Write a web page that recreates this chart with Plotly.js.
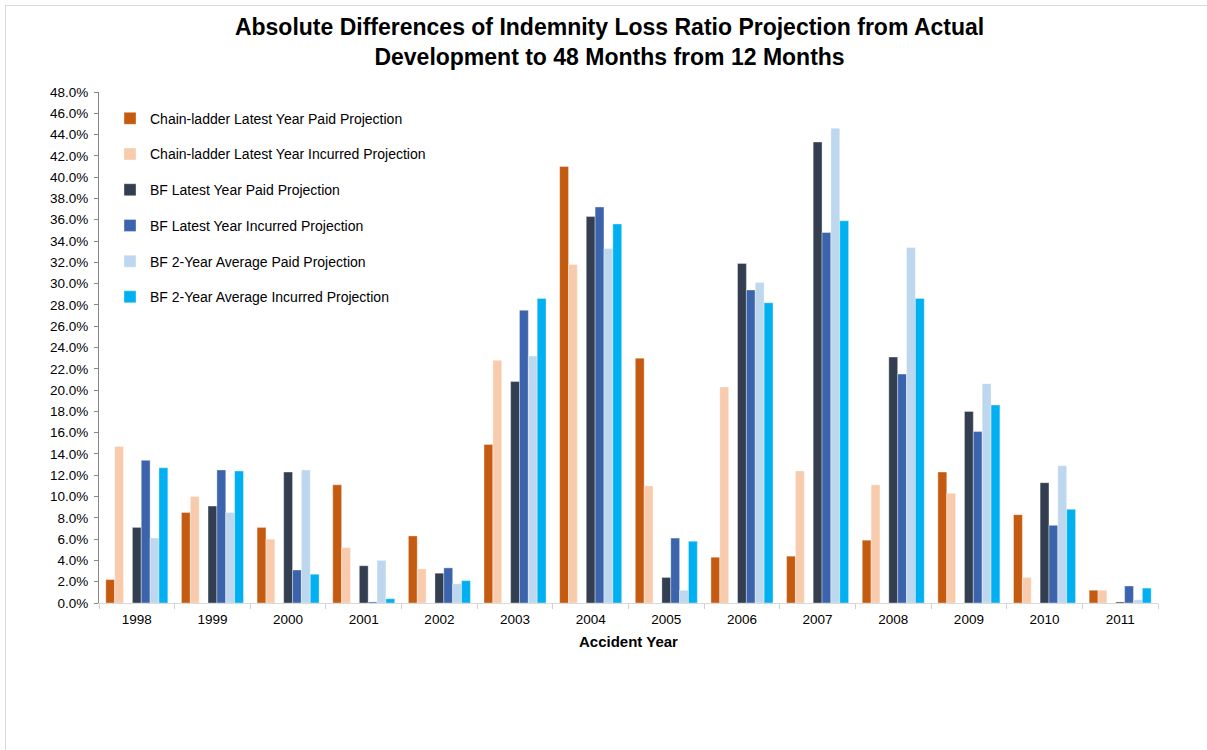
<!DOCTYPE html>
<html><head><meta charset="utf-8">
<script src="https://cdn.plot.ly/plotly-3.0.1.min.js"></script>
<style>
body{margin:0;padding:0;background:#fff;}
#frame{position:absolute;left:5px;top:5px;width:1202px;height:745px;border-left:1px solid #d9d9d9;border-top:1px solid #d9d9d9;}
#chart{position:absolute;left:0;top:0;width:1207px;height:750px;}
</style></head>
<body>
<div id="frame"></div>
<div id="chart"></div>
<script>
const years = ['1998','1999','2000','2001','2002','2003','2004','2005','2006','2007','2008','2009','2010','2011'];
const seriesNames = ['Chain-ladder Latest Year Paid Projection','Chain-ladder Latest Year Incurred Projection','BF Latest Year Paid Projection','BF Latest Year Incurred Projection','BF 2-Year Average Paid Projection','BF 2-Year Average Incurred Projection'];
const clPaid     = [2.2, 8.5, 7.1, 11.1, 6.3, 14.9, 41.0, 23.0, 4.3, 4.4, 5.9, 12.3, 8.3, 1.2];
const clIncurred = [14.7, 10.0, 6.0, 5.2, 3.2, 22.8, 31.8, 11.0, 20.3, 12.4, 11.1, 10.3, 2.4, 1.2];
const bfPaid     = [7.1, 9.1, 12.3, 3.5, 2.8, 20.8, 36.3, 2.4, 31.9, 43.3, 23.1, 18.0, 11.3, 0.1];
const bfIncurred = [13.4, 12.5, 3.1, 0.1, 3.3, 27.5, 37.2, 6.1, 29.4, 34.8, 21.5, 16.1, 7.3, 1.6];
const bf2Paid    = [6.1, 8.5, 12.5, 4.0, 1.8, 23.2, 33.3, 1.2, 30.1, 44.6, 33.4, 20.6, 12.9, 0.3];
const bf2Incurred= [12.7, 12.4, 2.7, 0.4, 2.1, 28.6, 35.6, 5.8, 28.2, 35.9, 28.6, 18.6, 8.8, 1.4];
const emptySlot  = years.map(() => null);
const colors = ['#C55A11','#F8CBAD','#333F50','#3C64AD','#BDD7EE','#00B0F0'];

const seriesValues = [clPaid, clIncurred, null, bfPaid, bfIncurred, bf2Paid, bf2Incurred];
const traces = [];
let k = 0;
seriesValues.forEach((vals, i) => {
  if (vals === null) {
    traces.push({type:'bar', x: years, y: emptySlot, showlegend:false, hoverinfo:'skip', legendgroup:'empty', marker:{color:'rgba(0,0,0,0)'}});
  } else {
    traces.push({type:'bar', x: years, y: vals, name: seriesNames[k], legendgroup:'g'+k,
      marker:{color: colors[k], line:{color:'rgba(255,255,255,0.6)', width:0.6}}});
    k++;
  }
});

const layout = {
  width:1207, height:750,
  paper_bgcolor:'rgba(0,0,0,0)', plot_bgcolor:'rgba(0,0,0,0)',
  margin:{l:99, r:49, t:92, b:147},
  font:{family:'Liberation Sans, Arial, sans-serif', size:13, color:'#000'},
  title:{text:'<b>Absolute Differences of Indemnity Loss Ratio Projection from Actual<br>Development to 48 Months from 12 Months</b>',
    font:{size:23, family:'Liberation Sans, Arial, sans-serif', color:'#000'},
    x:0.505, xref:'container', xanchor:'center', y:0.953, yref:'container', yanchor:'top'},
  barmode:'group', bargap:0.18, bargroupgap:0,
  xaxis:{type:'category', showline:true, linecolor:'#d9d9d9', linewidth:1, ticks:'outside', tickson:'boundaries',
    ticklen:5, tickcolor:'#d0d0d0', showgrid:false, tickfont:{size:13.5}, ticklabelstandoff:4,
    title:{text:'<b>Accident Year</b>', font:{size:15}, standoff:10}},
  yaxis:{range:[0,48], dtick:2, tickformat:'.1f', ticksuffix:'%', showline:true, linecolor:'#868686', linewidth:1,
    ticks:'outside', ticklen:4, tickcolor:'#868686', showgrid:false, zeroline:false, tickfont:{size:13.5}, ticklabelstandoff:3},
  legend:{x:0.0104, y:0.979, xanchor:'left', yanchor:'top', traceorder:'grouped', tracegroupgap:14.5,
    font:{size:14}, bgcolor:'rgba(0,0,0,0)', itemwidth:30}
};
Plotly.newPlot('chart', traces, layout, {displayModeBar:false, staticPlot:true});
</script>
</body></html>
